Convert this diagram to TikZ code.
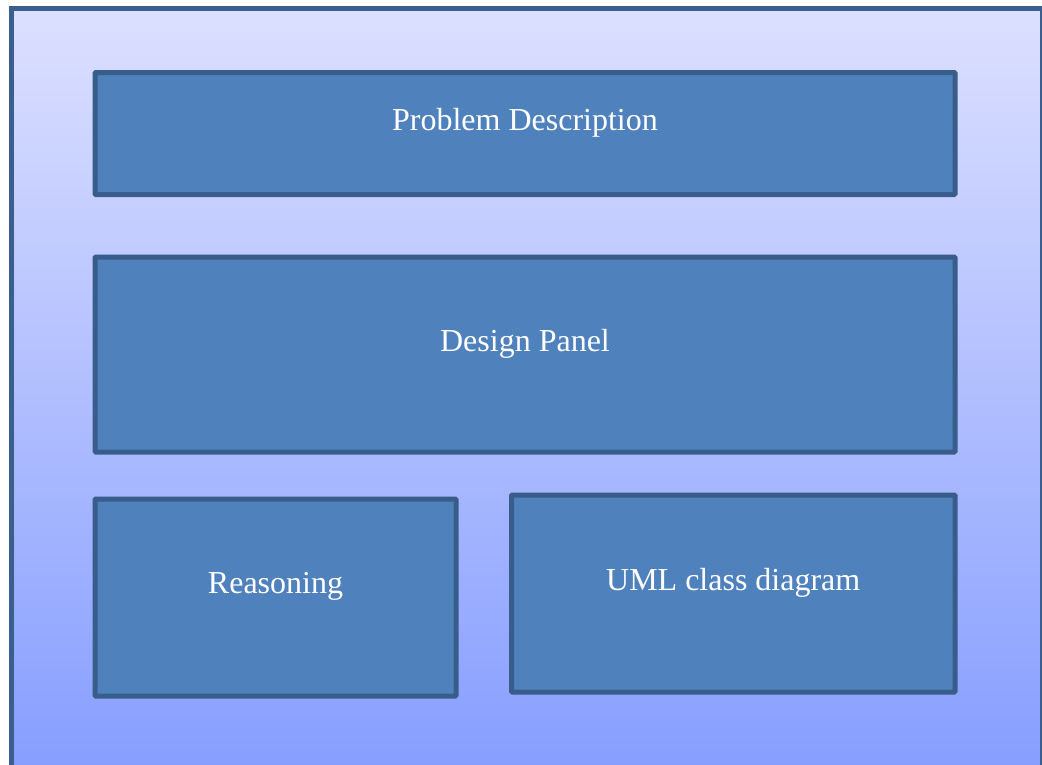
\documentclass[tikz,border=0pt]{standalone}
\usepackage{fontspec}
\setmainfont{Liberation Serif}
\definecolor{frameedge}{HTML}{3A5F8F}
\definecolor{bgtop}{HTML}{DCE0FF}
\definecolor{bgbottom}{HTML}{849CFF}
\definecolor{panelfill}{HTML}{4F81BD}
\definecolor{paneledge}{HTML}{385D8A}
\tikzset{
  panel/.style={draw=paneledge, fill=panelfill, line width=5pt, rounded corners=1pt,
    inner sep=0pt, outer sep=0pt},
  caption/.style={text=white, font=\fontsize{32}{38}\selectfont, inner sep=0pt, anchor=center}
}
\begin{document}
\begin{tikzpicture}[x=1pt, y=-1pt]
  \useasboundingbox (0,0) rectangle (1042,764);
  \clip (0,0) rectangle (1042,764);
  % outer window with vertical gradient
  \draw[line width=5pt, draw=frameedge, top color=bgtop, bottom color=bgbottom]
    (11.5,8) rectangle (1042,790);
  % panels
  \node[panel, minimum width=860pt, minimum height=122pt] (pd) at (525,133.5) {};
  \node[panel, minimum width=860pt, minimum height=195pt] (dp) at (525,354.5) {};
  \node[panel, minimum width=361pt, minimum height=197pt] (rs) at (275.5,597.5) {};
  \node[panel, minimum width=443.5pt, minimum height=197pt] (uml) at (733.25,593.5) {};
  % captions
  \node[caption] (pdt) at ([yshift=11pt]pd.center) {Problem Description};
  \node[caption] (dpt) at ([yshift=11pt]dp.center) {Design Panel};
  \node[caption] (rst) at ([yshift=11pt]rs.center) {Reasoning};
  \node[caption] (umlt) at ([yshift=11pt]uml.center) {UML class diagram};
\end{tikzpicture}
\end{document}
